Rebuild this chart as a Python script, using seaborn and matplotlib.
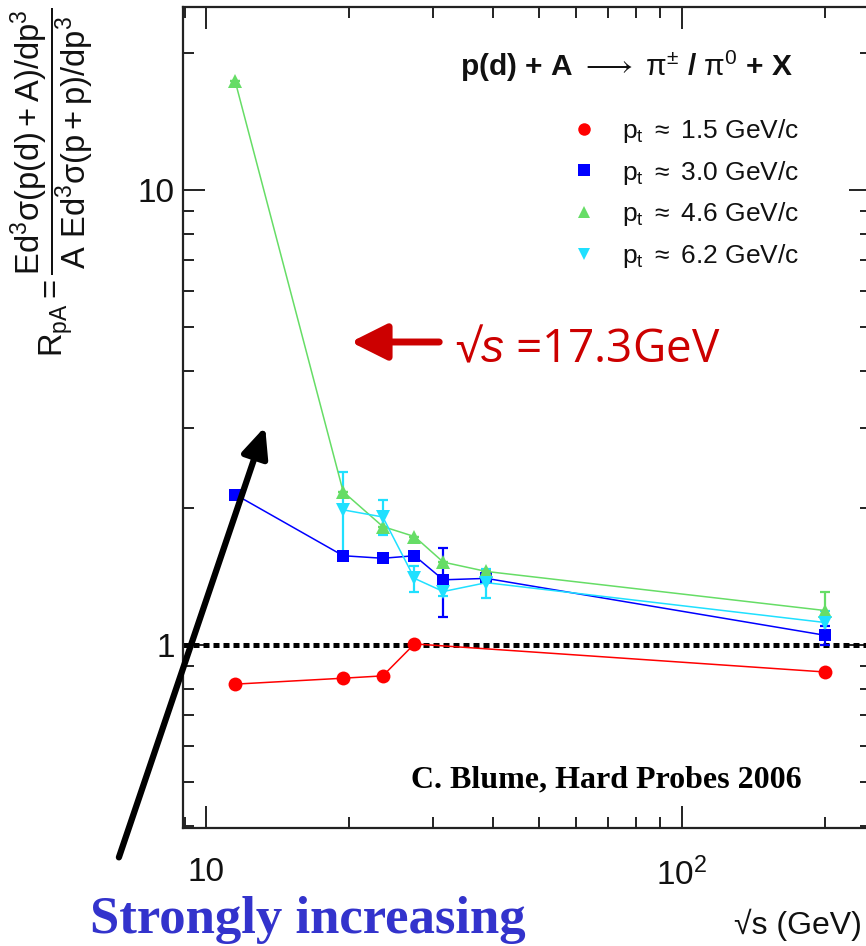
import numpy as np
import pandas as pd
import seaborn as sns
import matplotlib
matplotlib.use("Agg")
import matplotlib.pyplot as plt
from matplotlib.lines import Line2D
from matplotlib.patches import FancyArrowPatch
from matplotlib.ticker import LogLocator, FuncFormatter, NullFormatter

# ---- data: R_pA versus sqrt(s) for four pt bins ----
sqrt_s_red = [11.5, 19.4, 23.5, 27.4, 200]
rpa_pt15 = [0.82, 0.845, 0.855, 1.005, 0.872]

sqrt_s_blue = [11.5, 19.4, 23.5, 27.4, 31.5, 38.8, 200]
rpa_pt30 = [2.14, 1.57, 1.55, 1.57, 1.39, 1.40, 1.05]
err_pt30 = [0, 0, 0, 0, 0.24, 0, 0.05]

sqrt_s_green = [11.5, 19.4, 23.5, 27.4, 31.5, 38.8, 200]
rpa_pt46 = [17.3, 2.17, 1.82, 1.73, 1.52, 1.45, 1.19]
err_pt46 = [0, 0, 0, 0, 0, 0, 0.12]

sqrt_s_cyan = [19.4, 23.5, 27.4, 31.5, 38.8, 200]
rpa_pt62 = [1.98, 1.91, 1.40, 1.31, 1.37, 1.12]
err_pt62 = [0.42, 0.17, 0.09, 0.03, 0.10, 0.07]

labels = [r"p$_\mathregular{t}$ $\approx$ 1.5 GeV/c",
          r"p$_\mathregular{t}$ $\approx$ 3.0 GeV/c",
          r"p$_\mathregular{t}$ $\approx$ 4.6 GeV/c",
          r"p$_\mathregular{t}$ $\approx$ 6.2 GeV/c"]

sns.set_style("ticks")
plt.rcParams["font.family"] = ["Liberation Sans", "DejaVu Sans"]
plt.rcParams["mathtext.fontset"] = "custom"
plt.rcParams["mathtext.rm"] = "Liberation Sans"
plt.rcParams["mathtext.it"] = "Liberation Sans:italic"
plt.rcParams["mathtext.bf"] = "Liberation Sans:bold"

fig = plt.figure(figsize=(8.66, 9.46), dpi=100)
ax = fig.add_axes([0.2113, 0.1247, 0.7945, 0.8679])

ax.set_xscale("log")
ax.set_yscale("log")
ax.set_xlim(8.93, 250)
ax.set_ylim(0.396, 25.2)

# unity reference line
ax.axhline(1.0, color="black", lw=3.6, ls=(0, (1.2, 0.8)),
           dash_capstyle="butt", zorder=1)

series = [
    (sqrt_s_red, rpa_pt15, None, "#ff0000", "o", 10),
    (sqrt_s_blue, rpa_pt30, err_pt30, "#0000ff", "s", 9),
    (sqrt_s_green, rpa_pt46, err_pt46, "#66dd66", "^", 10),
    (sqrt_s_cyan, rpa_pt62, err_pt62, "#1fe0ff", "v", 10),
]

for xs, ys, errs, col, mk, ms in series:
    if errs is not None:
        ax.errorbar(xs, ys, yerr=errs, fmt="none", ecolor=col,
                    elinewidth=1.6, capsize=3.5, capthick=1.6, zorder=2)
    df = pd.DataFrame({"sqrt_s": xs, "rpa": ys})
    sns.lineplot(data=df, x="sqrt_s", y="rpa", ax=ax, color=col, lw=1.1,
                 marker=mk, markersize=ms, markeredgewidth=0,
                 markerfacecolor=col, sort=False, zorder=3)

ax.set_xlabel("")
ax.set_ylabel("")

# ticks
ax.xaxis.set_major_locator(LogLocator(base=10))
ax.yaxis.set_major_locator(LogLocator(base=10))
ax.xaxis.set_minor_locator(LogLocator(base=10, subs=np.arange(2, 10)))
ax.yaxis.set_minor_locator(LogLocator(base=10, subs=np.arange(2, 10)))
ax.xaxis.set_major_formatter(FuncFormatter(
    lambda v, p: {10: "10", 100: r"10$^\mathregular{2}$"}.get(int(round(v)), "")))
ax.yaxis.set_major_formatter(FuncFormatter(
    lambda v, p: {1: "1", 10: "10"}.get(int(round(v)), "") if v >= 1 else ""))
ax.xaxis.set_minor_formatter(NullFormatter())
ax.yaxis.set_minor_formatter(NullFormatter())
ax.tick_params(which="both", direction="in", top=True, right=True,
               colors="#222222", labelcolor="#111111")
ax.tick_params(which="major", length=16, width=1.4, labelsize=24)
ax.tick_params(which="minor", length=8, width=1.4)
ax.tick_params(axis="x", which="major", pad=21)
ax.tick_params(axis="y", which="major", pad=6)
for s in ax.spines.values():
    s.set_linewidth(1.6)
    s.set_color("#222222")

# legend
handles = [Line2D([], [], ls="none", marker=mk, color=col, markersize=ms - 1,
                  markeredgewidth=0)
           for _, _, _, col, mk, ms in series]
leg = ax.legend(handles, labels, loc="upper left", frameon=False,
                bbox_to_anchor=(571 / 866, 1 - 117 / 946),
                bbox_transform=fig.transFigure, fontsize=19,
                handlelength=1.0, handletextpad=0.95, labelspacing=0.52,
                borderaxespad=0, borderpad=0)
for t in leg.get_texts():
    t.set_color("#111111")

# reaction label
fig.text(460 / 866, 1 - 76 / 946,
         r"p(d) + A $\mathrm{\longrightarrow}$ $\mathrm{\pi^{\pm}}$ / $\mathrm{\pi^{0}}$ + X",
         fontsize=21.5, fontweight="bold", ha="left", va="baseline",
         color="#111111")

# reference tag
fig.text(411 / 866, 1 - 787 / 946, "C. Blume, Hard Probes 2006",
         family="Liberation Serif", fontweight="bold", fontsize=23,
         ha="left", va="baseline", color="black")

# y-axis label
fig.text(52 / 866, 1 - 182 / 946,
         r"$\mathregular{R_{pA} = \dfrac{Ed^3\sigma(p(d)+A)/dp^3}{A\ Ed^3\sigma(p+p)/dp^3}}$",
         rotation=90, fontsize=23.5, ha="center", va="center", color="#111111")

# x-axis label
fig.text(862 / 866, 1 - 934 / 946, "\u221as (GeV)", fontsize=23,
         ha="right", va="baseline", color="#111111")

# SPS energy marker
fig.add_artist(FancyArrowPatch((442, 946 - 342), (348, 946 - 342),
                               transform=None,
                               arrowstyle="-|>,head_length=22,head_width=11",
                               mutation_scale=1, lw=5, color="#cc0000"))
fig.text(455 / 866, 1 - 362 / 946, "\u221a$\\mathit{s}$ =17.3GeV",
         fontsize=33, color="#cc0000", ha="left", va="baseline",
         family=["Open Sans", "DejaVu Sans"])

# trend arrow
fig.add_artist(FancyArrowPatch((118, 946 - 860), (266, 946 - 424),
                               transform=None,
                               arrowstyle="-|>,head_length=18,head_width=8",
                               mutation_scale=1, lw=4.5, color="black"))
fig.text(90 / 866, 1 - 933 / 946, "Strongly increasing",
         family="Liberation Serif", fontweight="bold", fontsize=38,
         color="#3333cc", ha="left", va="baseline")

fig.savefig("out.png", dpi=100)
